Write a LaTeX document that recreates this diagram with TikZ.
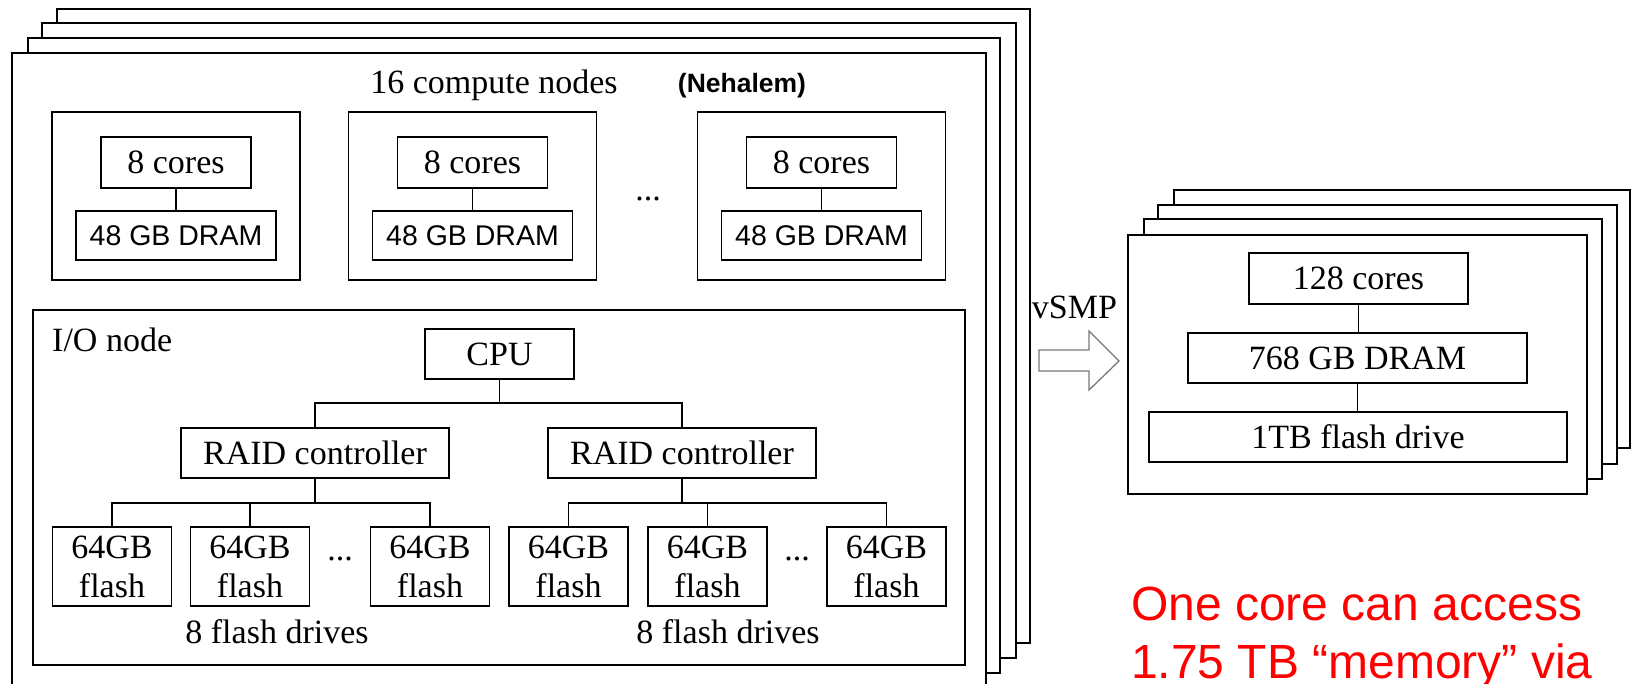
\documentclass[tikz,border=0pt]{standalone}
\usepackage{fontspec}
\setmainfont{Liberation Serif}
\newfontfamily\arialfont{Liberation Sans}
\newcommand\fsTimes{\fontsize{34}{39}\selectfont}
\newcommand\fsDram{\arialfont\fontsize{28.5}{32}\selectfont}
\newcommand\fsNeh{\arialfont\bfseries\fontsize{26.5}{30}\selectfont}
\newcommand\fsRed{\arialfont\fontsize{48}{58}\selectfont}
\definecolor{arrowgray}{RGB}{120,120,120}
\begin{document}
\begin{tikzpicture}[x=1pt,y=-1pt,
  ln/.style={line width=1.6pt},
  frm/.style={draw, line width=1.6pt, fill=white},
  bx/.style={draw, line width=1.6pt, inner sep=0pt, font=\fsTimes, align=center},
  drambox/.style={bx, font=\fsDram, minimum width=200pt, minimum height=49pt},
  corebox/.style={bx, minimum width=150pt, minimum height=51pt},
  cnbox/.style={bx, minimum width=248pt, minimum height=168pt},
  flashbox/.style={bx, minimum width=119pt, minimum height=79pt},
  raidbox/.style={bx, minimum width=268pt, minimum height=50pt},
  lbl/.style={inner sep=0pt, font=\fsTimes}
]
\useasboundingbox (0,0) rectangle (1631,683);
% left stack
\draw[frm] (57,9) rectangle (1030,643);
\draw[frm] (42,23) rectangle (1016,658);
\draw[frm] (28,38) rectangle (1000,673);
\draw[frm] (12,53) rectangle (986,688);
% right stack
\draw[frm] (1174,190) rectangle (1630,448);
\draw[frm] (1158,205) rectangle (1617,464);
\draw[frm] (1144,219) rectangle (1602,479);
\draw[frm] (1128,235) rectangle (1587,494);

% titles
\node[lbl, anchor=base] (title) at (494,93) {16 compute nodes};
\node[inner sep=0pt, font=\fsNeh, anchor=base] (neh) at (742,92) {(Nehalem)};

% compute nodes
\node[cnbox] (cn1) at (176,196) {};
\node[cnbox] (cn2) at (472.5,196) {};
\node[cnbox] (cn3) at (821.5,196) {};
\node[corebox] (c1) at (176,162.5) {8 cores};
\node[corebox] (c2) at (472.5,162.5) {8 cores};
\node[corebox] (c3) at (821.5,162.5) {8 cores};
\node[drambox] (d1) at (176,235.5) {48 GB DRAM};
\node[drambox] (d2) at (472.5,235.5) {48 GB DRAM};
\node[drambox] (d3) at (821.5,235.5) {48 GB DRAM};
\draw[ln] (c1) -- (d1);
\draw[ln] (c2) -- (d2);
\draw[ln] (c3) -- (d3);
\node[lbl, anchor=base] (dots0) at (648,200) {...};

% I/O node
\node[bx, minimum width=932pt, minimum height=355pt] (io) at (499,487.5) {};
\node[lbl, anchor=base west] (iol) at (52,351) {I/O node};
\node[bx, minimum width=149pt, minimum height=50pt] (cpu) at (499.5,354) {CPU};
\node[raidbox] (r1) at (315,453) {RAID controller};
\node[raidbox] (r2) at (682,453) {RAID controller};
\coordinate (bus) at (499.5,403);
\draw[ln] (cpu) -- (bus);
\draw[ln] (r1.north) |- (bus) -| (r2.north);

% flash drives left
\node[flashbox] (fa) at (112,566.5) {64GB\\flash};
\node[flashbox] (fb) at (250,566.5) {64GB\\flash};
\node[flashbox] (fc) at (430,566.5) {64GB\\flash};
\coordinate (fbus1) at (315,503);
\draw[ln] (r1) -- (fbus1);
\draw[ln] (fa.north) |- (fbus1) -| (fc.north);
\draw[ln] (fb.north) -- (fb.north |- fbus1);
\node[lbl, anchor=base] (dots1) at (340,560) {...};
\node[lbl, anchor=base] (fd1) at (277,643) {8 flash drives};

% flash drives right
\node[flashbox] (fd) at (568.5,566.5) {64GB\\flash};
\node[flashbox] (fe) at (707.5,566.5) {64GB\\flash};
\node[flashbox] (ff) at (886.5,566.5) {64GB\\flash};
\coordinate (fbus2) at (682,503);
\draw[ln] (r2) -- (fbus2);
\draw[ln] (fd.north) |- (fbus2) -| (ff.north);
\draw[ln] (fe.north) -- (fe.north |- fbus2);
\node[lbl, anchor=base] (dots2) at (797,560) {...};
\node[lbl, anchor=base] (fd2) at (728,643) {8 flash drives};

% vSMP arrow
\node[lbl, anchor=base] (vsmp) at (1074.5,318) {vSMP};
\draw[line width=1.3pt, arrowgray, line join=miter]
  (1039,350) -- (1089,350) -- (1089,331) -- (1119,361) -- (1089,390)
  -- (1089,371) -- (1039,371) -- cycle;

% right machine
\node[bx, minimum width=219pt, minimum height=51pt] (bigc) at (1358.5,278.5) {128 cores};
\node[bx, minimum width=339pt, minimum height=50pt] (bigd) at (1357.5,358) {768 GB DRAM};
\node[bx, minimum width=418pt, minimum height=50pt] (bigf) at (1358,437) {1TB flash drive};
\draw[ln] (bigc) -- (bigc |- bigd.north);
\draw[ln] (bigd) -- (bigd |- bigf.north);

% red note
\node[inner sep=0pt, font=\fsRed, text=red, align=left, anchor=base west] (note) at (1131,678)
  {One core can access\\1.75 TB “memory” via};
\end{tikzpicture}
\end{document}
